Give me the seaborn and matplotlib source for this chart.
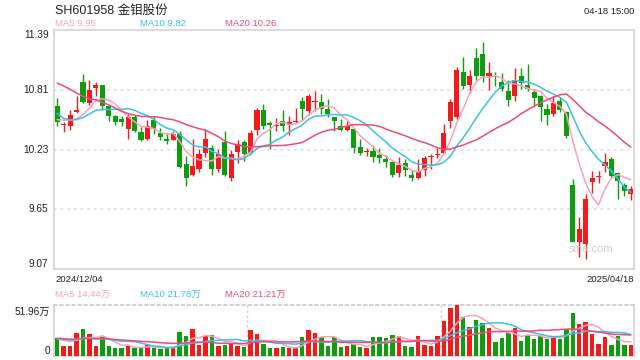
import numpy as np
import pandas as pd
import matplotlib
matplotlib.use("Agg")
import matplotlib.pyplot as plt
import seaborn as sns

# ---------------- data ----------------
title = "SH601958 金钼股份"
timestamp = "04-18 15:00"
start_label = "2024/12/04"
end_label = "2025/04/18"
price_ticks = [11.39, 10.81, 10.23, 9.65, 9.07]
vol_max_label = "51.96万"
vol_min_label = "0"
vol_max = 51.96
ma_price_labels = ["MA5 9.95", "MA10 9.82", "MA20 10.26"]
ma_vol_labels = ["MA5 14.44万", "MA10 21.78万", "MA20 21.21万"]

opens = [10.655, 10.467, 10.455, 10.591, 10.890, 10.681, 10.826, 10.858, 10.649, 10.559,
         10.527, 10.430, 10.546, 10.397, 10.333, 10.520, 10.391, 10.333, 10.327, 10.382,
         10.085, 9.982, 10.043, 10.198, 10.246, 10.037, 10.301, 9.956, 10.204, 10.301,
         10.198, 10.417, 10.610, 10.488, 10.462, 10.510, 10.469, 10.494, 10.697, 10.600,
         10.691, 10.694, 10.626, 10.546, 10.462, 10.417, 10.430, 10.252, 10.208, 10.220,
         10.172, 10.133, 10.111, 10.000, 10.101, 9.979, 9.956, 10.030, 10.159, 10.172,
         10.198, 10.504, 10.546, 10.987, 10.858, 11.116, 11.158, 10.945, 10.945, 10.881,
         10.800, 10.745, 10.945, 10.858, 10.784, 10.752, 10.626, 10.578, 10.704, 10.591,
         9.882, 9.334, 9.312, 9.914, 9.962, 10.069, 10.140, 9.998, 9.882, 9.802]
highs = [10.730, 10.494, 10.617, 10.745, 10.965, 10.907, 10.881, 10.860, 10.665, 10.568,
         10.552, 10.578, 10.568, 10.449, 10.520, 10.552, 10.440, 10.391, 10.407, 10.407,
         10.165, 10.333, 10.237, 10.430, 10.278, 10.237, 10.407, 10.230, 10.320, 10.327,
         10.423, 10.633, 10.672, 10.510, 10.536, 10.610, 10.552, 10.633, 10.739, 10.771,
         10.800, 10.771, 10.720, 10.546, 10.527, 10.504, 10.440, 10.333, 10.246, 10.278,
         10.246, 10.172, 10.117, 10.159, 10.133, 10.030, 10.140, 10.165, 10.182, 10.246,
         10.478, 10.720, 11.035, 11.126, 11.003, 11.213, 11.277, 11.078, 10.987, 10.971,
         10.900, 11.020, 11.020, 11.061, 10.817, 10.762, 10.675, 10.745, 10.730, 10.600,
         9.940, 9.579, 9.795, 10.020, 10.020, 10.198, 10.153, 10.011, 9.908, 9.875]
lows = [10.462, 10.397, 10.423, 10.585, 10.681, 10.665, 10.752, 10.610, 10.504, 10.472,
        10.462, 10.333, 10.397, 10.317, 10.320, 10.385, 10.327, 10.288, 10.320, 10.053,
        9.875, 9.972, 10.014, 10.159, 9.982, 10.011, 9.972, 9.924, 10.095, 10.117,
        10.182, 10.375, 10.430, 10.237, 10.407, 10.407, 10.375, 10.488, 10.520, 10.568,
        10.600, 10.578, 10.546, 10.407, 10.407, 10.407, 10.198, 10.172, 10.165, 10.107,
        10.101, 10.063, 9.966, 9.966, 9.972, 9.924, 9.947, 9.972, 10.043, 10.150,
        10.188, 10.440, 10.527, 10.817, 10.778, 10.907, 10.890, 10.810, 10.842, 10.794,
        10.649, 10.697, 10.817, 10.794, 10.665, 10.504, 10.472, 10.552, 10.591, 10.343,
        9.334, 9.183, 9.167, 9.811, 9.908, 10.011, 9.966, 9.753, 9.779, 9.740]
closes = [10.494, 10.477, 10.568, 10.617, 10.687, 10.803, 10.852, 10.649, 10.559, 10.494,
          10.494, 10.546, 10.407, 10.327, 10.462, 10.430, 10.353, 10.314, 10.382, 10.059,
          9.956, 10.069, 10.191, 10.333, 10.043, 10.182, 9.979, 10.191, 10.288, 10.182,
          10.391, 10.610, 10.462, 10.472, 10.472, 10.455, 10.494, 10.504, 10.623, 10.752,
          10.697, 10.623, 10.578, 10.504, 10.417, 10.462, 10.246, 10.198, 10.220, 10.159,
          10.143, 10.107, 9.979, 10.075, 10.030, 9.956, 10.020, 10.150, 10.165, 10.191,
          10.391, 10.687, 11.003, 10.849, 10.945, 10.945, 10.939, 10.971, 10.933, 10.817,
          10.713, 10.900, 10.875, 10.817, 10.730, 10.643, 10.568, 10.681, 10.617, 10.365,
          9.334, 9.457, 9.747, 9.956, 9.969, 10.111, 9.972, 9.923, 9.827, 9.850]
# closes of the 19 sessions before the window (estimated from where the MA lines start)
prev_closes = [11.05, 11.20, 11.35, 11.30, 11.25, 11.10, 11.15, 11.05, 11.10, 11.15,
               10.95, 10.75, 10.55, 10.50, 10.45, 10.50, 10.58, 10.55, 10.476]

# volumes in 万 (10k shares)
volumes = [18.3, 10.2, 10.2, 23.7, 27.5, 22.4, 10.0, 19.4, 10.0, 8.0,
           8.0, 10.0, 8.0, 9.0, 11.0, 8.0, 7.0, 8.0, 9.0, 24.8,
           20.4, 27.5, 11.0, 20.4, 21.4, 10.0, 11.0, 12.0, 10.0, 9.0,
           26.5, 22.4, 12.0, 8.0, 8.0, 9.0, 8.0, 8.0, 19.4, 26.5,
           23.7, 19.0, 10.0, 19.0, 9.0, 10.0, 12.0, 9.0, 8.0, 19.0,
           19.0, 18.6, 21.4, 20.4, 10.0, 9.0, 20.4, 11.0, 10.0, 20.4,
           36.0, 48.6, 51.96, 40.0, 29.2, 36.7, 33.3, 28.8, 14.0, 18.6,
           23.7, 28.2, 15.0, 21.4, 17.0, 20.7, 17.5, 20.7, 17.0, 27.5,
           44.1, 32.6, 35.0, 22.4, 12.0, 19.0, 11.0, 20.4, 11.0, 11.0]
prev_volumes = [19.0, 21.0, 18.0, 17.0, 20.0, 19.0, 18.0, 17.0, 18.0, 19.0,
                18.0, 17.0, 19.0, 18.0, 17.0, 18.0, 16.0, 17.0, 18.0]

# ---------------- styling ----------------
sns.set_theme(style="white")
plt.rcParams['font.family'] = ['Liberation Sans', 'Noto Sans CJK SC', 'DejaVu Sans']

RED = "#f21a1a"
GREEN = "#0f9d0f"
C_MA5 = "#f7a1bd"
C_MA10 = "#3ac3e2"
C_MA20 = "#ec4a80"
FRAME = "#d4d4d4"
TXT = "#222222"

W, H = 640, 360
fig = plt.figure(figsize=(W / 100, H / 100), dpi=100)


def axes_px(x0, y0, x1, y1):
    return fig.add_axes([x0 / W, 1 - y1 / H, (x1 - x0) / W, (y1 - y0) / H])


n = len(closes)
idx = np.arange(n)
df = pd.DataFrame({"i": idx, "open": opens, "high": highs, "low": lows,
                   "close": closes, "vol": volumes})
df["up"] = df["close"] >= df["open"]

all_close = pd.Series(prev_closes + closes)
all_vol = pd.Series(prev_volumes + volumes)
for w in (5, 10, 20):
    df[f"ma{w}"] = all_close.rolling(w).mean().iloc[len(prev_closes):].to_numpy()
    df[f"vma{w}"] = all_vol.rolling(w).mean().iloc[len(prev_volumes):].to_numpy()

# ---------------- price panel ----------------
ax = axes_px(54, 30, 634, 269)
ax.set_xlim(-0.5, n - 0.5)
ax.set_ylim(9.07, 11.39)
for t in price_ticks[1:-1]:
    ax.axhline(t, color="#dddddd", lw=1.2, ls=(0, (1.5, 2.5)), zorder=0)

colors = np.where(df["up"], RED, GREEN)
ax.vlines(df["i"], df["low"], df["high"], colors=colors, lw=1, zorder=2)
body_bottom = np.minimum(df["open"], df["close"])
body_h = np.maximum(np.abs(df["close"] - df["open"]), 0.006)
ax.bar(df["i"], body_h, bottom=body_bottom, width=0.78, color=colors, lw=0, zorder=3)

sns.lineplot(data=df, x="i", y="ma5", ax=ax, color=C_MA5, lw=1.1, zorder=4)
sns.lineplot(data=df, x="i", y="ma10", ax=ax, color=C_MA10, lw=1.1, zorder=4)
sns.lineplot(data=df, x="i", y="ma20", ax=ax, color=C_MA20, lw=1.1, zorder=4)

ax.set_xticks([]); ax.set_yticks([])
ax.set_xlabel(""); ax.set_ylabel("")
for s in ax.spines.values():
    s.set_color(FRAME); s.set_linewidth(1.2)

for k, t in enumerate(price_ticks):
    va = "top" if k == 0 else ("bottom" if k == len(price_ticks) - 1 else "center")
    ax.annotate(f"{t:.2f}", xy=(0, t), xycoords=("axes fraction", "data"),
                xytext=(-4, 0), textcoords="offset points", ha="right", va=va,
                fontsize=7.3, color=TXT)

ax.text(0.965, 0.085, "sina.com", transform=ax.transAxes, ha="right", va="center",
        fontsize=8, color="#cccccc")

# header texts
fig.text(55 / W, 1 - 11 / H, title, ha="left", va="center", fontsize=9, color=TXT)
fig.text(634 / W, 1 - 11 / H, timestamp, ha="right", va="center", fontsize=6.8, color=TXT)
for lab, col, xp in zip(ma_price_labels, (C_MA5, C_MA10, C_MA20), (55, 140, 225)):
    fig.text(xp / W, 1 - 24 / H, lab, ha="left", va="center", fontsize=6.8, color=col)

fig.text(55 / W, 1 - 280 / H, start_label, ha="left", va="center", fontsize=6.8, color=TXT)
fig.text(634 / W, 1 - 280 / H, end_label, ha="right", va="center", fontsize=6.8, color=TXT)
for lab, col, xp in zip(ma_vol_labels, (C_MA5, C_MA10, C_MA20), (55, 140, 225)):
    fig.text(xp / W, 1 - 294 / H, lab, ha="left", va="center", fontsize=6.8, color=col)

# ---------------- volume panel ----------------
av = axes_px(54, 305, 634, 356)
av.set_xlim(-0.5, n - 0.5)
av.set_ylim(0, vol_max)
av.bar(df["i"], df["vol"], width=0.7, color=colors, lw=0, zorder=3)
sns.lineplot(data=df, x="i", y="vma5", ax=av, color=C_MA5, lw=1.1, zorder=4)
sns.lineplot(data=df, x="i", y="vma10", ax=av, color=C_MA10, lw=1.1, zorder=4)
sns.lineplot(data=df, x="i", y="vma20", ax=av, color=C_MA20, lw=1.1, zorder=4)
for xf in (n / 3 - 0.5, 2 * n / 3 - 0.5):
    av.axvline(xf, color="#cccccc", lw=1, ls=(0, (1.5, 2)), zorder=0)
av.set_xticks([]); av.set_yticks([])
av.set_xlabel(""); av.set_ylabel("")
av.spines["top"].set_color("#cccccc"); av.spines["top"].set_linestyle((0, (1.5, 2)))
av.spines["bottom"].set_color(FRAME); av.spines["bottom"].set_linewidth(1.2)
for s in ("left", "right"):
    av.spines[s].set_color(FRAME); av.spines[s].set_linewidth(1.2)

fig.text(50 / W, 1 - 312 / H, vol_max_label, ha="right", va="center", fontsize=7.3, color=TXT)
fig.text(50 / W, 1 - 351 / H, vol_min_label, ha="right", va="center", fontsize=7.3, color=TXT)

fig.savefig("out.png", dpi=100)
